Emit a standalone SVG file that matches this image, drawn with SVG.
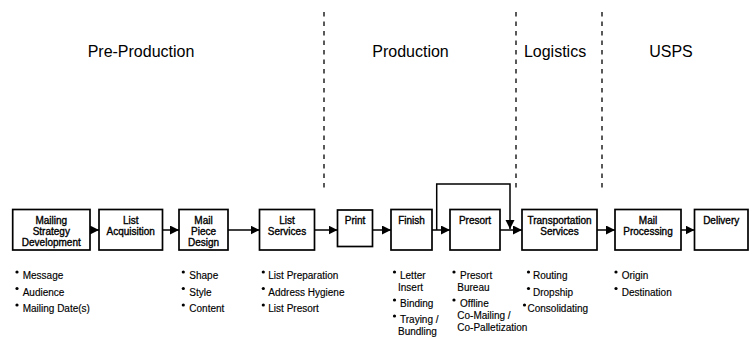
<svg xmlns="http://www.w3.org/2000/svg" width="755" height="339" viewBox="0 0 755 339">
<style>
.title{font-family:"Liberation Sans",Arial,sans-serif;font-size:16px;fill:#000;text-anchor:middle}
.box{fill:#fff;stroke:#000;stroke-width:1.7}
.lbl{font-family:"Liberation Sans",Arial,sans-serif;font-size:10px;fill:#000;stroke:#000;stroke-width:0.35;text-anchor:middle}
.bt{font-family:"Liberation Sans",Arial,sans-serif;font-size:10px;fill:#000;stroke:#000;stroke-width:0.15}
.dot{fill:#000}
.conn{fill:none;stroke:#000;stroke-width:1.5}
.dash{fill:none;stroke:#000;stroke-width:1.3;stroke-dasharray:4.5,5}
</style>
<defs>
<marker id="ah" markerUnits="userSpaceOnUse" markerWidth="10" markerHeight="10" refX="9" refY="4.5" orient="auto">
<path d="M0,0 L9,4.5 L0,9 z" fill="#000"/>
</marker>
</defs>
<rect width="755" height="339" fill="#fff"/>
<g id="phases">
<line class="dash" x1="324" y1="12" x2="324" y2="188"/>
<line class="dash" x1="516" y1="12" x2="516" y2="188"/>
<line class="dash" x1="602" y1="12" x2="602" y2="188"/>
<text class="title" x="141" y="57">Pre-Production</text>
<text class="title" x="410.5" y="57">Production</text>
<text class="title" x="555" y="57">Logistics</text>
<text class="title" x="671" y="57">USPS</text>
</g>
<g id="connectors">
<line class="conn" x1="90" y1="230" x2="99" y2="230" marker-end="url(#ah)"/>
<line class="conn" x1="162.5" y1="230" x2="179" y2="230" marker-end="url(#ah)"/>
<line class="conn" x1="228" y1="230" x2="259.5" y2="230" marker-end="url(#ah)"/>
<line class="conn" x1="314.5" y1="230" x2="337.5" y2="230" marker-end="url(#ah)"/>
<line class="conn" x1="372.5" y1="230" x2="391" y2="230" marker-end="url(#ah)"/>
<line class="conn" x1="432" y1="230" x2="450" y2="230" marker-end="url(#ah)"/>
<line class="conn" x1="500" y1="230" x2="522" y2="230" marker-end="url(#ah)"/>
<line class="conn" x1="597" y1="230" x2="615" y2="230" marker-end="url(#ah)"/>
<line class="conn" x1="681" y1="230" x2="694.5" y2="230" marker-end="url(#ah)"/>
<path class="conn" d="M436.7,230 V184 H510 V229" marker-end="url(#ah)"/>
</g>
<g id="n1">
<rect class="box" x="12.7" y="209.5" width="77.3" height="40.5"/>
<text class="lbl" x="51.3" y="223.5">Mailing</text>
<text class="lbl" x="51.3" y="234.5">Strategy</text>
<text class="lbl" x="51.3" y="245.5">Development</text>
<circle class="dot" cx="17" cy="272" r="1.6"/><text class="bt" x="22.7" y="279">Message</text>
<circle class="dot" cx="17" cy="288.5" r="1.6"/><text class="bt" x="22.7" y="295.5">Audience</text>
<circle class="dot" cx="17" cy="305" r="1.6"/><text class="bt" x="22.7" y="312">Mailing Date(s)</text>
</g>
<g id="n2">
<rect class="box" x="99" y="209.5" width="63.5" height="40.5"/>
<text class="lbl" x="130.7" y="223.5">List</text>
<text class="lbl" x="130.7" y="234.5">Acquisition</text>
</g>
<g id="n3">
<rect class="box" x="179" y="209.5" width="49" height="40.5"/>
<text class="lbl" x="203.5" y="223.5">Mail</text>
<text class="lbl" x="203.5" y="234.5">Piece</text>
<text class="lbl" x="203.5" y="245.5">Design</text>
<circle class="dot" cx="183.3" cy="272" r="1.6"/><text class="bt" x="189.3" y="279">Shape</text>
<circle class="dot" cx="183.3" cy="288.5" r="1.6"/><text class="bt" x="189.3" y="295.5">Style</text>
<circle class="dot" cx="183.3" cy="305" r="1.6"/><text class="bt" x="189.3" y="312">Content</text>
</g>
<g id="n4">
<rect class="box" x="259.5" y="209.5" width="55" height="40.5"/>
<text class="lbl" x="287" y="223.5">List</text>
<text class="lbl" x="287" y="234.5">Services</text>
<circle class="dot" cx="263.3" cy="272" r="1.6"/><text class="bt" x="268.3" y="279">List Preparation</text>
<circle class="dot" cx="263.3" cy="288.5" r="1.6"/><text class="bt" x="268.3" y="295.5">Address Hygiene</text>
<circle class="dot" cx="263.3" cy="305" r="1.6"/><text class="bt" x="268.3" y="312">List Presort</text>
</g>
<g id="n5">
<rect class="box" x="337.5" y="210" width="35" height="36.5"/>
<text class="lbl" x="355" y="223.5">Print</text>
</g>
<g id="n6">
<rect class="box" x="391" y="209.5" width="41" height="40.5"/>
<text class="lbl" x="411.5" y="223.5">Finish</text>
<circle class="dot" cx="394.5" cy="272" r="1.6"/><text class="bt" x="400" y="279">Letter</text>
<text class="bt" x="398" y="291">Insert</text>
<circle class="dot" cx="394.5" cy="300" r="1.6"/><text class="bt" x="400" y="307">Binding</text>
<circle class="dot" cx="394.5" cy="316" r="1.6"/><text class="bt" x="400" y="323">Traying /</text>
<text class="bt" x="398" y="335">Bundling</text>
</g>
<g id="n7">
<rect class="box" x="450" y="209.5" width="50" height="40.5"/>
<text class="lbl" x="475" y="223.5">Presort</text>
<circle class="dot" cx="454" cy="272" r="1.6"/><text class="bt" x="460" y="279">Presort</text>
<text class="bt" x="457.3" y="291">Bureau</text>
<circle class="dot" cx="454" cy="300" r="1.6"/><text class="bt" x="460" y="307">Offline</text>
<text class="bt" x="457.3" y="319">Co-Mailing /</text>
<text class="bt" x="457.3" y="331">Co-Palletization</text>
</g>
<g id="n8">
<rect class="box" x="522" y="209.5" width="75" height="40.5"/>
<text class="lbl" x="559.5" y="223.5">Transportation</text>
<text class="lbl" x="559.5" y="234.5">Services</text>
<circle class="dot" cx="528.5" cy="272" r="1.6"/><text class="bt" x="533" y="279">Routing</text>
<circle class="dot" cx="528.5" cy="288.5" r="1.6"/><text class="bt" x="533" y="295.5">Dropship</text>
<circle class="dot" cx="524.5" cy="305" r="1.6"/><text class="bt" x="527.5" y="312">Consolidating</text>
</g>
<g id="n9">
<rect class="box" x="615" y="209.5" width="66" height="40.5"/>
<text class="lbl" x="648" y="223.5">Mail</text>
<text class="lbl" x="648" y="234.5">Processing</text>
<circle class="dot" cx="616" cy="272" r="1.6"/><text class="bt" x="621.7" y="279">Origin</text>
<circle class="dot" cx="616" cy="288.5" r="1.6"/><text class="bt" x="621.7" y="295.5">Destination</text>
</g>
<g id="n10">
<rect class="box" x="694.5" y="209.5" width="53.5" height="40.5"/>
<text class="lbl" x="721.2" y="223.5">Delivery</text>
</g>
</svg>
